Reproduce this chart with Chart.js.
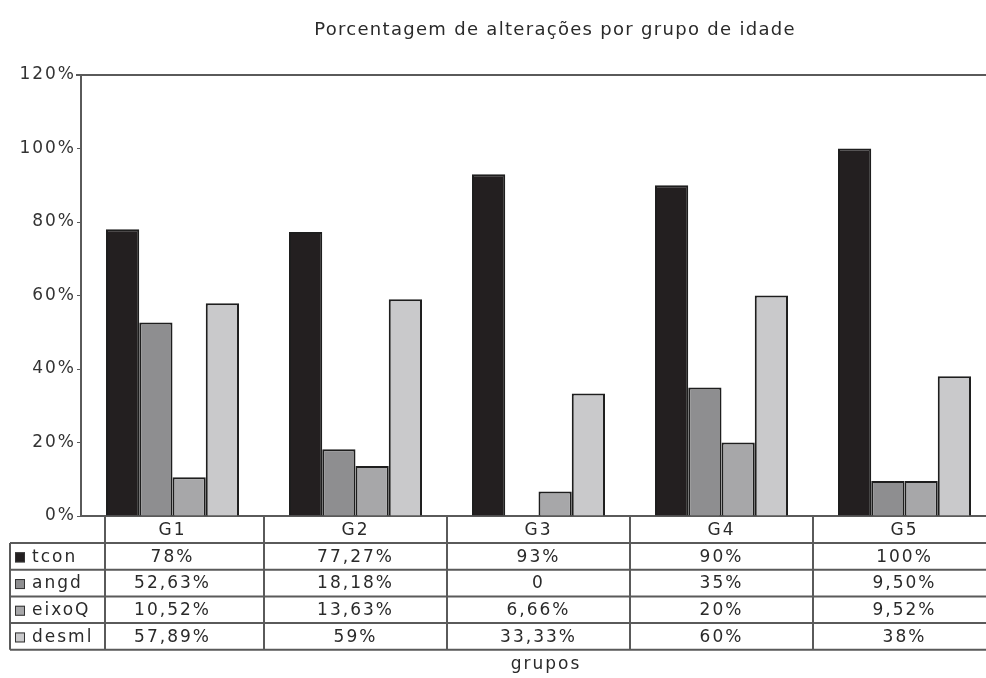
<!DOCTYPE html>
<html>
<head>
<meta charset="utf-8">
<script src="https://cdn.jsdelivr.net/npm/chart.js@4/dist/chart.umd.min.js"></script>
<style>
  html, body { margin: 0; padding: 0; background: #fff; overflow: hidden; }
</style>
</head>
<body>
<canvas id="chart" width="1000" height="678"></canvas>
<script>
const groups = ['G1', 'G2', 'G3', 'G4', 'G5'];
const seriesNames = ['tcon', 'angd', 'eixoQ', 'desml'];
const yTicks = [0, 20, 40, 60, 80, 100, 120];

// values as written in the data table under the chart
const tcon  = ['78%', '77,27%', '93%', '90%', '100%'];
const angd  = ['52,63%', '18,18%', '0', '35%', '9,50%'];
const eixoQ = ['10,52%', '13,63%', '6,66%', '20%', '9,52%'];
const desml = ['57,89%', '59%', '33,33%', '60%', '38%'];

const seriesText = [tcon, angd, eixoQ, desml];
const colors = ['#231f20', '#8e8e90', '#a7a7a9', '#c9c9cb'];

const toNumber = s => parseFloat(s.replace('%', '').replace(',', '.'));

const FONT = '"DejaVu Sans", sans-serif';
const LINE = '#5a5a5a';
const TEXT = '#2a2a2a';

// wide lettering for every label drawn on the canvas
const spacingPlugin = {
  id: 'spacing',
  beforeDraw(chart) { chart.ctx.letterSpacing = '2px'; }
};

const tablePlugin = {
  id: 'dataTable',
  afterDraw(chart) {
    const ctx = chart.ctx;
    const area = chart.chartArea;
    const x = chart.scales.x;

    ctx.save();
    // title
    ctx.fillStyle = TEXT;
    ctx.letterSpacing = '1.3px';
    ctx.font = '18px ' + FONT;
    ctx.textAlign = 'center';
    ctx.textBaseline = 'middle';
    ctx.fillText('Porcentagem de alterações por grupo de idade', 555, 30);
    ctx.letterSpacing = '2px';

    // top border of plot
    ctx.strokeStyle = LINE;
    ctx.lineWidth = 2;
    ctx.beginPath();
    ctx.moveTo(area.left - 5, area.top);
    ctx.lineTo(area.right, area.top);
    ctx.stroke();

    const rowTop = area.bottom;
    const headerBottom = 543;
    const rowH = 26.7;
    const tableBottom = headerBottom + rowH * seriesNames.length;
    const legendLeft = 10;
    const legendRight = 105;

    // column dividers at category boundaries
    const bounds = [legendRight];
    for (let i = 0; i < groups.length - 1; i++) {
      bounds.push((x.getPixelForValue(i) + x.getPixelForValue(i + 1)) / 2);
    }
    bounds.push(area.right);
    ctx.beginPath();
    bounds.forEach(bx => {
      ctx.moveTo(bx, rowTop);
      ctx.lineTo(bx, tableBottom);
    });
    ctx.moveTo(legendLeft, headerBottom);
    ctx.lineTo(legendLeft, tableBottom);
    for (let r = 0; r <= seriesNames.length; r++) {
      const y = headerBottom + r * rowH;
      ctx.moveTo(legendLeft, y);
      ctx.lineTo(area.right, y);
    }
    ctx.stroke();

    // header row
    ctx.fillStyle = TEXT;
    ctx.font = '17px ' + FONT;
    groups.forEach((g, i) => {
      ctx.fillText(g, x.getPixelForValue(i), (rowTop + headerBottom) / 2 + 1);
    });

    // one row per series
    seriesNames.forEach((name, r) => {
      const cy = headerBottom + rowH * (r + 0.5) + 1;
      ctx.fillStyle = colors[r];
      ctx.fillRect(15, cy - 5, 10, 10);
      ctx.strokeStyle = '#333';
      ctx.lineWidth = 1;
      ctx.strokeRect(15.5, cy - 4.5, 9, 9);
      ctx.fillStyle = TEXT;
      ctx.textAlign = 'left';
      ctx.fillText(name, 32, cy);
      ctx.textAlign = 'center';
      seriesText[r].forEach((t, i) => {
        ctx.fillText(t, x.getPixelForValue(i), cy);
      });
    });

    // axis title
    ctx.font = '17px ' + FONT;
    ctx.fillText('grupos', 546, 665);
    ctx.restore();
  }
};

new Chart(document.getElementById('chart'), {
  type: 'bar',
  data: {
    labels: groups,
    datasets: seriesNames.map((name, r) => ({
      label: name,
      data: seriesText[r].map(toNumber),
      backgroundColor: colors[r],
      borderColor: '#1e1e1e',
      borderWidth: 2,
      categoryPercentage: 0.727,
      barPercentage: 1.0
    }))
  },
  options: {
    responsive: false,
    animation: false,
    layout: { padding: { top: 75, bottom: 162, left: 0, right: 4 } },
    plugins: {
      legend: { display: false },
      tooltip: { enabled: false }
    },
    scales: {
      x: {
        grid: { display: false },
        ticks: { display: false },
        border: { color: LINE, width: 2 },
        afterFit(scale) { scale.height = 0; }
      },
      y: {
        min: 0,
        max: 120,
        afterBuildTicks(scale) { scale.ticks = yTicks.map(v => ({ value: v })); },
        ticks: {
          callback: v => v + '%',
          color: '#333',
          font: { family: FONT, size: 17 },
          padding: 1
        },
        grid: { drawOnChartArea: false, drawTicks: true, tickLength: 4, color: LINE },
        border: { color: LINE, width: 2 },
        afterFit(scale) { scale.width = 81; }
      }
    }
  },
  plugins: [spacingPlugin, tablePlugin]
});
</script>
</body>
</html>
